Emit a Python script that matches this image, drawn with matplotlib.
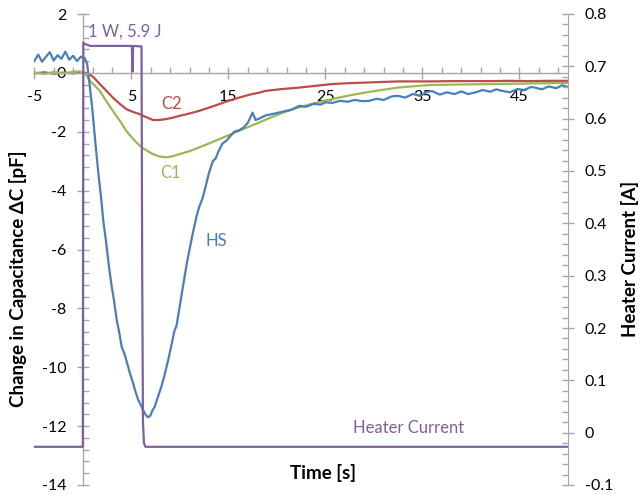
import matplotlib
matplotlib.use("Agg")
import matplotlib.pyplot as plt
from matplotlib.ticker import MultipleLocator

# ---------------- data ----------------
hs_t = [-5, -4.6, -4.2, -3.8, -3.4, -3.0, -2.6, -2.2, -1.8, -1.4, -1.0, -0.6, -0.2, 0.2,
        0.45, 0.7, 1.0, 1.3, 1.6, 1.9, 2.1, 2.4, 2.7, 2.95, 3.2, 3.5, 3.8, 4.0, 4.3, 4.6,
        4.85, 5.1, 5.4, 5.7, 6.0, 6.2, 6.45, 6.7, 6.95, 7.2, 7.4, 7.7, 8.1, 8.4, 8.8, 9.1,
        9.45, 9.65, 10.0, 10.3, 10.7, 11.0, 11.3, 11.7, 12.0, 12.35, 12.7, 13.0, 13.4,
        13.7, 14.0, 14.4, 14.8, 15.2, 15.6, 16.1, 16.6, 17.0, 17.5, 17.8, 18.2, 18.8,
        19.5, 20.2, 20.8, 21.5, 22.3, 23.0, 23.8, 24.5, 25.0, 25.7, 26.5, 27.3, 28.0,
        28.8, 29.5, 30.3, 31.0, 31.8, 32.5, 33.2, 34.0, 34.8, 35.5, 36.0, 36.8, 37.5,
        38.3, 39.0, 39.7, 40.5, 41.2, 42.0, 42.6, 43.2, 44.0, 44.8, 45.5, 46.2, 46.6,
        47.3, 48.0, 48.8, 49.4, 50.0]
hs_v = [0.40, 0.62, 0.38, 0.55, 0.70, 0.42, 0.60, 0.48, 0.72, 0.45, 0.58, 0.40, 0.55, 0.50,
        0.30, -0.40, -1.30, -2.40, -3.40, -4.30, -5.00, -5.75, -6.60, -7.20, -7.70, -8.40,
        -8.90, -9.30, -9.55, -9.90, -10.20, -10.45, -10.80, -11.10, -11.30, -11.45,
        -11.60, -11.70, -11.65, -11.45, -11.35, -11.05, -10.65, -10.30, -9.75, -9.30,
        -8.75, -8.60, -7.90, -7.30, -6.50, -6.00, -5.50, -4.90, -4.55, -4.25, -3.80,
        -3.40, -3.00, -2.90, -2.65, -2.40, -2.30, -2.15, -2.00, -1.95, -1.85, -1.70,
        -1.35, -1.60, -1.55, -1.45, -1.40, -1.35, -1.30, -1.25, -1.12, -1.15, -1.05,
        -1.08, -1.00, -1.02, -0.95, -0.98, -0.92, -0.96, -0.95, -0.88, -0.92, -0.80,
        -0.78, -0.84, -0.72, -0.78, -0.64, -0.62, -0.74, -0.66, -0.72, -0.63, -0.72,
        -0.66, -0.58, -0.64, -0.56, -0.61, -0.66, -0.55, -0.58, -0.48, -0.50, -0.56,
        -0.46, -0.52, -0.42, -0.48]

c1_t = [-5, -4, -3, -2, -1, -0.3, 0.3, 0.72, 1.2, 1.75, 2.4, 3.1, 3.8, 4.48, 5.2, 5.85,
        6.5, 7.22, 7.9, 8.59, 9.3, 9.96, 11.0, 12.0, 13.0, 14.07, 15.0, 16.1, 17.2, 18.2,
        19.5, 20.8, 22.3, 24.0, 25.7, 27.4, 29.1, 30.8, 32.5, 34.2, 35.9, 38.0, 40.0,
        42.0, 44.0, 46.0, 48.0, 50.0]
c1_v = [0.02, -0.04, 0.03, -0.02, 0.04, 0.05, -0.05, -0.27, -0.42, -0.61, -0.95, -1.29,
        -1.62, -1.97, -2.25, -2.47, -2.62, -2.76, -2.84, -2.87, -2.83, -2.76, -2.66,
        -2.53, -2.40, -2.25, -2.12, -1.97, -1.82, -1.68, -1.50, -1.33, -1.17, -1.02,
        -0.89, -0.77, -0.67, -0.58, -0.50, -0.45, -0.41, -0.40, -0.39, -0.38, -0.37,
        -0.36, -0.35, -0.34]

c2_t = [-5, -4, -3, -2, -1, -0.3, 0.3, 0.72, 1.2, 1.75, 2.4, 3.1, 3.8, 4.48, 5.2, 5.85,
        6.5, 7.22, 7.9, 8.59, 9.3, 9.96, 11.0, 12.0, 13.0, 14.07, 15.0, 16.1, 17.2, 18.2,
        18.86, 20.5, 22.3, 24.0, 25.7, 27.4, 29.1, 30.8, 32.5, 34.2, 35.9, 38.0, 40.0,
        42.0, 44.0, 46.0, 48.0, 50.0]
c2_v = [-0.02, 0.02, -0.03, 0.01, -0.02, 0.01, 0.0, -0.05, -0.18, -0.38, -0.60, -0.84,
        -1.05, -1.23, -1.33, -1.40, -1.50, -1.60, -1.60, -1.57, -1.52, -1.46, -1.38,
        -1.29, -1.18, -1.06, -0.95, -0.84, -0.74, -0.67, -0.61, -0.55, -0.50, -0.44,
        -0.38, -0.35, -0.33, -0.31, -0.29, -0.29, -0.29, -0.28, -0.28, -0.28, -0.27,
        -0.28, -0.27, -0.27]

heat_t = [-5, 0.0, 0.05, 0.3, 0.8, 2.0, 3.0, 4.0, 5.05, 5.12, 5.18, 6.05, 6.12, 6.2,
          6.3, 6.45, 50]
heat_a = [-0.027, -0.027, 0.745, 0.742, 0.739, 0.739, 0.739, 0.739, 0.739, 0.690,
          0.739, 0.738, 0.300, 0.020, -0.020, -0.027, -0.027]

x_lim = (-5, 50)
y_left_lim = (-14, 2)
y_right_lim = (-0.1, 0.8)

# ---------------- styling ----------------
plt.rcParams['font.family'] = ['Lato', 'DejaVu Sans']
plt.rcParams['axes.unicode_minus'] = False
BLUE = '#4A7EBB'
RED = '#BE4B48'
GREEN = '#98B954'
PURPLE = '#7D60A0'
GRAY = '#A6A6A6'
TICK_FS = 11.5
LAB_FS = 13.5

fig = plt.figure(figsize=(6.42, 4.95), dpi=100)
ax = fig.add_axes([34.3 / 642, 1 - 485 / 495, (568 - 34.3) / 642, (485 - 14) / 495])
ax.set_facecolor('none')

ax.plot(c2_t, c2_v, color=RED, lw=1.6)
ax.plot(c1_t, c1_v, color=GREEN, lw=1.6)
ax.plot(hs_t, hs_v, color=BLUE, lw=1.6)

ax.set_xlim(*x_lim)
ax.set_ylim(*y_left_lim)

ax.spines['left'].set_position(('data', 0))
ax.spines['bottom'].set_position(('data', 0))
ax.spines['top'].set_visible(False)
ax.spines['right'].set_visible(False)
for s in ('left', 'bottom'):
    ax.spines[s].set_color(GRAY)
    ax.spines[s].set_linewidth(1.0)

ax.xaxis.set_major_locator(MultipleLocator(10, offset=5))
ax.xaxis.set_minor_locator(MultipleLocator(2, offset=1))
ax.yaxis.set_major_locator(MultipleLocator(2))
ax.yaxis.set_minor_locator(MultipleLocator(0.4))
ax.tick_params(which='major', direction='inout', length=8, color=GRAY, width=1.0,
               labelsize=TICK_FS, labelcolor='black')
ax.tick_params(which='minor', direction='in', length=4, color=GRAY, width=1.0)
ax.tick_params(axis='x', which='major', pad=8)
ax.tick_params(axis='y', which='major', pad=8)

ax.set_xlabel('Time [s]', fontsize=LAB_FS, fontweight='bold', va='center')
ax.xaxis.set_label_coords((322.5 - 34.3) / 533.7, (485 - 473) / 471)
ax.set_ylabel('Change in Capacitance ΔC [pF]', fontsize=LAB_FS, fontweight='bold',
              va='center')
ax.yaxis.set_label_coords((18.5 - 34.3) / 533.7, (485 - 279) / 471)

ax2 = ax.twinx()
ax2.set_facecolor('none')
ax2.plot(heat_t, heat_a, color=PURPLE, lw=1.6)
ax2.set_ylim(*y_right_lim)
for s in ('left', 'top', 'bottom'):
    ax2.spines[s].set_visible(False)
ax2.spines['right'].set_color(GRAY)
ax2.yaxis.set_major_locator(MultipleLocator(0.1))
ax2.yaxis.set_minor_locator(MultipleLocator(0.02))
ax2.yaxis.set_major_formatter(matplotlib.ticker.FuncFormatter(lambda v, p: f'{v:.1f}'.replace('0.0', '0').replace('-0', '-0') if abs(v) > 1e-9 else '0'))
ax2.tick_params(which='major', direction='inout', length=8, color=GRAY, width=1.0,
                labelsize=TICK_FS, pad=8)
ax2.tick_params(which='minor', direction='in', length=4, color=GRAY, width=1.0)
ax2.set_ylabel('Heater Current [A]', fontsize=LAB_FS, fontweight='bold', va='center')
ax2.yaxis.set_label_coords((630 - 34.3) / 533.7, (485 - 259) / 471)

# annotations
ax.text(9.14, -1.05, 'C2', color=RED, fontsize=12, ha='center', va='center')
ax.text(9.03, -3.39, 'C1', color=GREEN, fontsize=12, ha='center', va='center')
ax.text(13.76, -5.7, 'HS', color=BLUE, fontsize=12, ha='center', va='center')
ax.text(33.6, -12.05, 'Heater Current', color=PURPLE, fontsize=12, ha='center', va='center')
ax.text(4.3, 1.39, '1 W, 5.9 J', color=PURPLE, fontsize=12, ha='center', va='center')

fig.savefig('out.png', dpi=100)
